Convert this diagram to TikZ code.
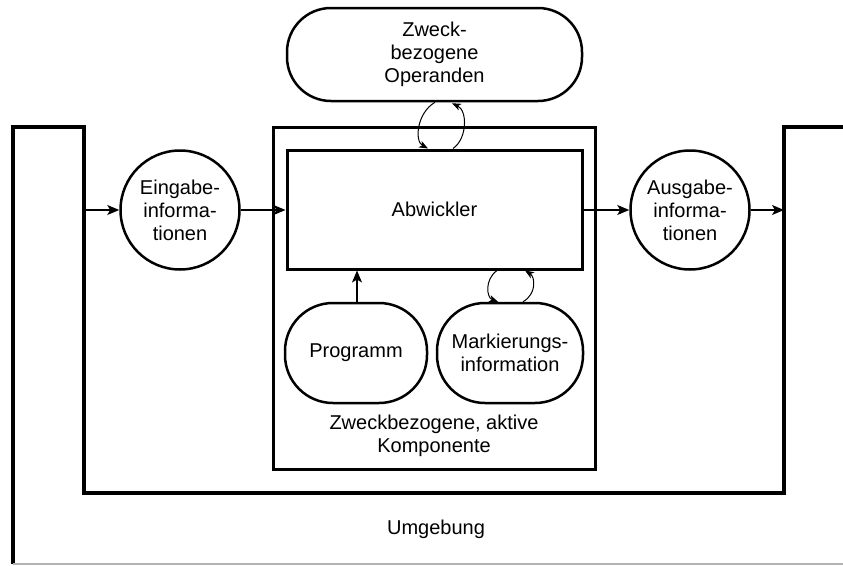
\documentclass[tikz,border=0pt]{standalone}
\usepackage{fontspec}
\setmainfont{Liberation Sans}
\usetikzlibrary{arrows.meta,calc}
\begin{document}
\begin{tikzpicture}[x=1pt,y=-1pt,
  font=\fontsize{20}{23}\selectfont,
  frameline/.style={line width=3.2pt, line join=miter},
  boxnode/.style={draw, line width=3pt, inner sep=0pt, align=center},
  infocircle/.style={draw, circle, line width=2.5pt, minimum size=119pt, inner sep=0pt, align=center},
  roundbox/.style={draw, line width=2.5pt, inner sep=0pt, align=center},
  flow/.style={line width=1.2pt, -{Stealth[length=12pt,width=10pt,inset=3pt]}},
  loop/.style={line width=1pt, -{Stealth[length=9pt,width=7pt,inset=2.5pt]}}]
\useasboundingbox (0,0) rectangle (843,565);

% surrounding environment
\draw[frameline] (13,564) -- (13,127) -- (84,127) -- (84,493) -- (784,493) -- (784,127) -- (843,127);
\draw[gray!60, line width=1.5pt] (13,564) -- (843,564);
\coordinate (envL) at (84,210);
\coordinate (envR) at (784,210);
\node (umg) at (436,529) {Umgebung};

% active component and its parts
\node[boxnode, minimum width=322pt, minimum height=342pt] (comp) at (434,298) {};
\node[align=center] (complabel) at (434,436) {Zweckbezogene, aktive\\Komponente};
\node[boxnode, minimum width=295pt, minimum height=119pt] (abw) at (434.5,209.5) {Abwickler};
\node[roundbox, rounded corners=48pt, minimum width=142pt, minimum height=100pt] (prog) at (356,353) {Programm};
\node[roundbox, rounded corners=48pt, minimum width=146pt, minimum height=100pt] (mark) at (510,353) {Markierungs-\\information};

% operands
\node[roundbox, rounded corners=44pt, minimum width=295pt, minimum height=93pt] (ope) at (434.5,54.5) {Zweck-\\bezogene\\Operanden};

% input and output information
\node[infocircle] (ein) at (180,210) {Eingabe-\\informa-\\tionen};
\node[infocircle] (aus) at (690,210) {Ausgabe-\\informa-\\tionen};

% information flow
\draw[flow] (envL) -- (ein.west);
\draw[flow] (ein.east) -- (abw.west |- ein.east);
\draw[flow] (abw.east |- aus.west) -- (aus.west);
\draw[flow] (aus.east) -- (envR);
\draw[flow] ($(prog.north)+(1,0)$) -- ($(prog.north |- abw.south)+(1,0)$);

% exchange with operands
\draw[loop] ($(ope.south)+(0.5,0)$) .. controls ($(ope.south)+(-18,11)$) and ($(ope.south)+(-20,39)$) .. ($(abw.north)+(-6.5,0)$);
\draw[loop] ($(abw.north)+(18.5,0)$) .. controls ($(abw.north)+(33,-10)$) and ($(abw.north)+(33,-38)$) .. ($(ope.south)+(17.5,1)$);

% exchange with marking information
\draw[loop] ($(abw.south)+(62.5,0)$) .. controls ($(abw.south)+(50,9)$) and ($(abw.south)+(52,27)$) .. ($(mark.north)+(-12,0)$);
\draw[loop] ($(mark.north)+(13,0)$) .. controls ($(mark.north)+(27,-8)$) and ($(mark.north)+(25,-25)$) .. ($(abw.south)+(90.5,0)$);
\end{tikzpicture}
\end{document}
